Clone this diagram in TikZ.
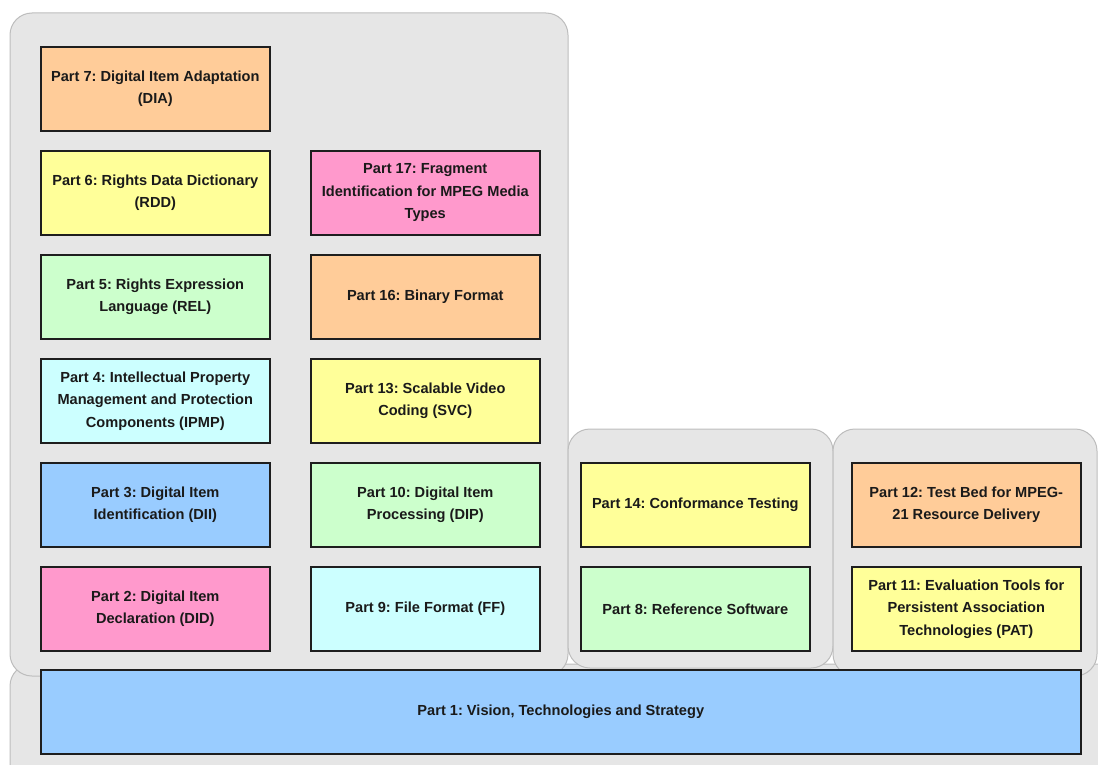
\documentclass[tikz,border=0pt]{standalone}
\usepackage{fontspec}
\setmainfont{Liberation Sans}
\frenchspacing
\definecolor{cOrange}{HTML}{FFCC99}
\definecolor{cYellow}{HTML}{FFFF99}
\definecolor{cPink}{HTML}{FF99CC}
\definecolor{cGreen}{HTML}{CCFFCC}
\definecolor{cCyan}{HTML}{CCFFFF}
\definecolor{cBlue}{HTML}{99CCFF}
\definecolor{panelfill}{HTML}{E6E6E6}
\definecolor{panelline}{HTML}{BDBDBD}
\definecolor{boxline}{HTML}{1E1E1E}
\definecolor{textcol}{HTML}{1A1A1A}
\begin{document}
\begin{tikzpicture}[x=1pt,y=-1pt,
  panel/.style={draw=panelline, fill=panelfill, line width=1pt, rounded corners=22pt},
  part/.style={draw=boxline, line width=1.6pt, minimum width=229pt, minimum height=84pt,
    inner sep=0pt, align=center, anchor=north west, text=textcol,
    font=\bfseries\fontsize{14.6}{22.5}\selectfont},
  wide/.style={part, minimum width=1040pt}]
\useasboundingbox (0,0) rectangle (1098,765);

% grey group panels
\begin{scope}
  \clip (0,0) rectangle (1098,765);
  \draw[panel] (10,664) rectangle (1120,800);
  \draw[panel] (10,13) rectangle (568,676);
  \draw[panel] (568,429) rectangle (833,668);
  \draw[panel] (833,429) rectangle (1097,676);
\end{scope}

% first column
\node[part, fill=cOrange] (p7)  at (40,46)  {Part 7: Digital Item Adaptation\\(DIA)};
\node[part, fill=cYellow] (p6)  at (40,150) {Part 6: Rights Data Dictionary\\(RDD)};
\node[part, fill=cGreen]  (p5)  at (40,254) {Part 5: Rights Expression\\Language (REL)};
\node[part, fill=cCyan]   (p4)  at (40,358) {Part 4: Intellectual Property\\Management and Protection\\Components (IPMP)};
\node[part, fill=cBlue]   (p3)  at (40,462) {Part 3: Digital Item\\Identification (DII)};
\node[part, fill=cPink]   (p2)  at (40,566) {Part 2: Digital Item\\Declaration (DID)};

% second column
\node[part, fill=cPink]   (p17) at (310,150) {Part 17: Fragment\\Identification for MPEG Media\\Types};
\node[part, fill=cOrange] (p16) at (310,254) {Part 16: Binary Format};
\node[part, fill=cYellow] (p13) at (310,358) {Part 13: Scalable Video\\Coding (SVC)};
\node[part, fill=cGreen]  (p10) at (310,462) {Part 10: Digital Item\\Processing (DIP)};
\node[part, fill=cCyan]   (p9)  at (310,566) {Part 9: File Format (FF)};

% third column
\node[part, fill=cYellow] (p14) at (580,462) {Part 14: Conformance Testing};
\node[part, fill=cGreen]  (p8)  at (580,566) {Part 8: Reference Software};

% fourth column
\node[part, fill=cOrange] (p12) at (851,462) {Part 12: Test Bed for MPEG-\\21 Resource Delivery};
\node[part, fill=cYellow] (p11) at (851,566) {Part 11: Evaluation Tools for\\Persistent Association\\Technologies (PAT)};

% base layer
\node[wide, fill=cBlue] (p1) at (40,669) {Part 1: Vision, Technologies and Strategy};
\end{tikzpicture}
\end{document}
